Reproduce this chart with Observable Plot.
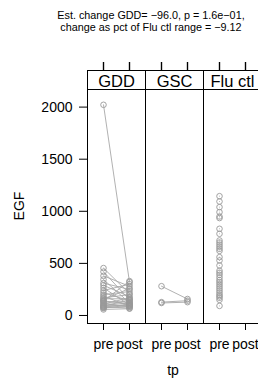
<!DOCTYPE html>
<html><head><meta charset="utf-8">
<script src="https://cdn.jsdelivr.net/npm/d3@7"></script>
<script src="https://cdn.jsdelivr.net/npm/@observablehq/plot@0.6"></script>
<style>
body{margin:0;background:#fff;}
#c{position:relative;width:258px;height:384px;overflow:hidden;}
</style>
</head><body><div id="c"></div>
<script>
const groups = ["GDD", "GSC", "Flu ctl"];
const tpLevels = ["pre", "post"];
const yTicks = [0, 500, 1000, 1500, 2000];
const titleLines = ["Est. change GDD= \u221296.0, p = 1.6e\u221201,", "change as pct of Flu ctl range = \u22129.12"];
const xLabel = "tp";
const yLabel = "EGF";

const gddPre  = [2022, 455, 420, 380, 345, 310, 290, 265, 240, 220, 200, 185, 170, 160, 150, 140, 130, 120, 110, 100, 95, 90, 85, 80, 75, 70, 58, 140];
const gddPost = [320, 210, 150, 280, 120, 250, 180, 100, 300, 140, 230, 90, 200, 160, 260, 110, 130, 80, 170, 120, 95, 150, 70, 110, 85, 100, 65, 330];
const gscPre  = [281, 128, 120];
const gscPost = [158, 142, 128];
const fluPre  = [1145, 1094, 1040, 992, 950, 935, 832, 784, 720, 700, 680, 660, 640, 620, 560, 528, 480, 430, 410, 390, 365, 340, 320, 300, 280, 260, 240, 220, 200, 185, 170, 150, 92];

const rows = [];
function addGroup(g, pre, post) {
  pre.forEach((v, i) => {
    rows.push({group: g, id: g + i, tp: "pre", EGF: v});
    if (post && post[i] != null) rows.push({group: g, id: g + i, tp: "post", EGF: post[i]});
  });
}
addGroup("GDD", gddPre, gddPost);
addGroup("GSC", gscPre, gscPost);
addGroup("Flu ctl", fluPre, null);

const tickRows = groups.flatMap(g => tpLevels.map(t => ({group: g, tp: t})));
const stripRows = groups.map(g => ({group: g}));
const ff = "Liberation Sans, Arial, sans-serif";

const plot = Plot.plot({
  width: 258,
  height: 384,
  marginLeft: 86,
  marginRight: -3,
  marginTop: 89,
  marginBottom: 61,
  fx: {domain: groups, padding: 0, axis: null},
  x: {domain: tpLevels, type: "point", padding: 0.6},
  y: {domain: [-77, 2169]},
  marks: [
    Plot.ruleX(tickRows, {x: "tp", fx: "group", insetTop: -27, insetBottom: 253, stroke: "#000", strokeWidth: 1.2}),
    Plot.tickX(tickRows, {x: "tp", fx: "group", insetTop: -27, insetBottom: 253, stroke: "#000", strokeWidth: 1.2}),
    Plot.axisY({ticks: yTicks, tickFormat: d => String(d), tickSize: 8, tickPadding: 7, fontSize: 14, fontFamily: ff, label: null}),
    Plot.axisX({anchor: "bottom", tickSize: 7, tickPadding: 8.5, fontSize: 14, fontFamily: ff, label: null}),
    Plot.frame({stroke: "black"}),
    Plot.frame({stroke: "black", insetTop: -19}),
    Plot.text(stripRows, {fx: "group", text: "group", frameAnchor: "top", dy: -3, lineAnchor: "bottom", fontSize: 16.5, fontFamily: ff, fill: "black"}),
    Plot.line(rows, {x: "tp", y: "EGF", z: "id", fx: "group", stroke: "#a8a8a8", strokeWidth: 0.9}),
    Plot.dot(rows, {x: "tp", y: "EGF", fx: "group", r: 2.8, stroke: "#999999", strokeWidth: 0.9, fill: "none"})
  ]
});

document.getElementById("c").appendChild(plot);
const svg = d3.select(plot);
svg.append("text").attr("x", 151).attr("y", 19).attr("text-anchor", "middle")
  .attr("font-family", ff).attr("font-size", 10.8).attr("fill", "black").text(titleLines[0]);
svg.append("text").attr("x", 151).attr("y", 31).attr("text-anchor", "middle")
  .attr("font-family", ff).attr("font-size", 10.8).attr("fill", "black").text(titleLines[1]);
svg.append("text").attr("x", 173).attr("y", 375).attr("text-anchor", "middle")
  .attr("font-family", ff).attr("font-size", 14).attr("fill", "black").text(xLabel);
svg.append("text").attr("transform", "translate(24,206) rotate(-90)").attr("text-anchor", "middle")
  .attr("font-family", ff).attr("font-size", 14).attr("fill", "black").text(yLabel);
</script>
</body></html>
